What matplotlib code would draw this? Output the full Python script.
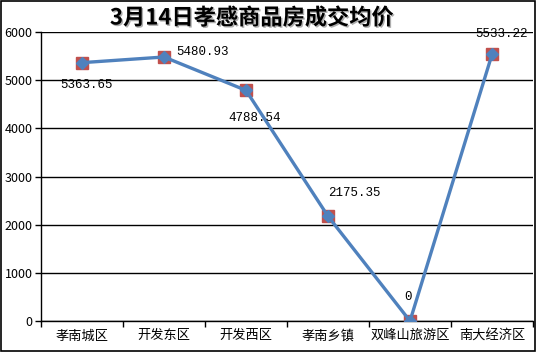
import matplotlib
matplotlib.use("Agg")
import matplotlib.pyplot as plt
import matplotlib.patheffects as pe
from matplotlib.patches import Rectangle

plt.rcParams['font.family'] = ['Noto Sans CJK SC', 'DejaVu Sans']

title = "3月14日孝感商品房成交均价"
districts = ["孝南城区", "开发东区", "开发西区", "孝南乡镇", "双峰山旅游区", "南大经济区"]
prices = [5363.65, 5480.93, 4788.54, 2175.35, 0, 5533.22]
price_labels = ["5363.65", "5480.93", "4788.54", "2175.35", "0", "5533.22"]
# label offsets in pixels (dx, dy) relative to each point
label_offsets = [(5, -22), (39, 5), (9, -28), (26, 23), (-2, 24), (10, 20)]

fig = plt.figure(figsize=(5.37, 3.52), dpi=100)
ax = fig.add_axes([41/537, 31/352, (533-41)/537, (321-32)/352])

x = list(range(len(districts)))
ax.plot(x, prices, linestyle='none', marker='s', markersize=8,
        color='#C0504D', markeredgecolor='#C0504D', zorder=3)
ax.plot(x, prices, color='#4F81BD', linewidth=2.4, marker='D', markersize=6,
        markeredgecolor='#4F81BD', zorder=4)

for xi, yi, lab, (dx, dy) in zip(x, prices, price_labels, label_offsets):
    ax.annotate(lab, (xi, yi), xytext=(dx, dy), textcoords='offset pixels',
                ha='center', va='center', fontsize=9,
                family='Liberation Mono', zorder=5)

ax.set_xlim(-0.5, len(districts) - 0.5)
ax.set_ylim(0, 6000)
ax.set_yticks(range(0, 6001, 1000))
ax.yaxis.grid(True, color='black', linewidth=1)
ax.set_axisbelow(True)

ax.set_xticks([i - 0.5 for i in range(len(districts) + 1)])
ax.set_xticklabels([])
ax.set_xticks(x, minor=True)
ax.set_xticklabels(districts, minor=True, fontsize=9.5)
ax.tick_params(axis='x', which='minor', length=0, pad=6)
ax.tick_params(axis='x', which='major', length=4, width=1, direction='out')
ax.tick_params(axis='y', length=4, width=1, labelsize=9, pad=2)

for s in ['top', 'right']:
    ax.spines[s].set_visible(False)
ax.spines['left'].set_linewidth(1)
ax.spines['bottom'].set_linewidth(1)

t = fig.text(252/537, 1 - 18/352, title, ha='center', va='center',
             fontsize=16, fontweight='bold')
t.set_path_effects([pe.withSimplePatchShadow(offset=(1, -1), shadow_rgbFace='#999999', alpha=0.8)])

fig.patches.append(Rectangle((0.002, 0.003), 0.995, 0.994, transform=fig.transFigure,
                             fill=False, edgecolor='black', linewidth=1.2))

fig.savefig("out.png", dpi=100)
